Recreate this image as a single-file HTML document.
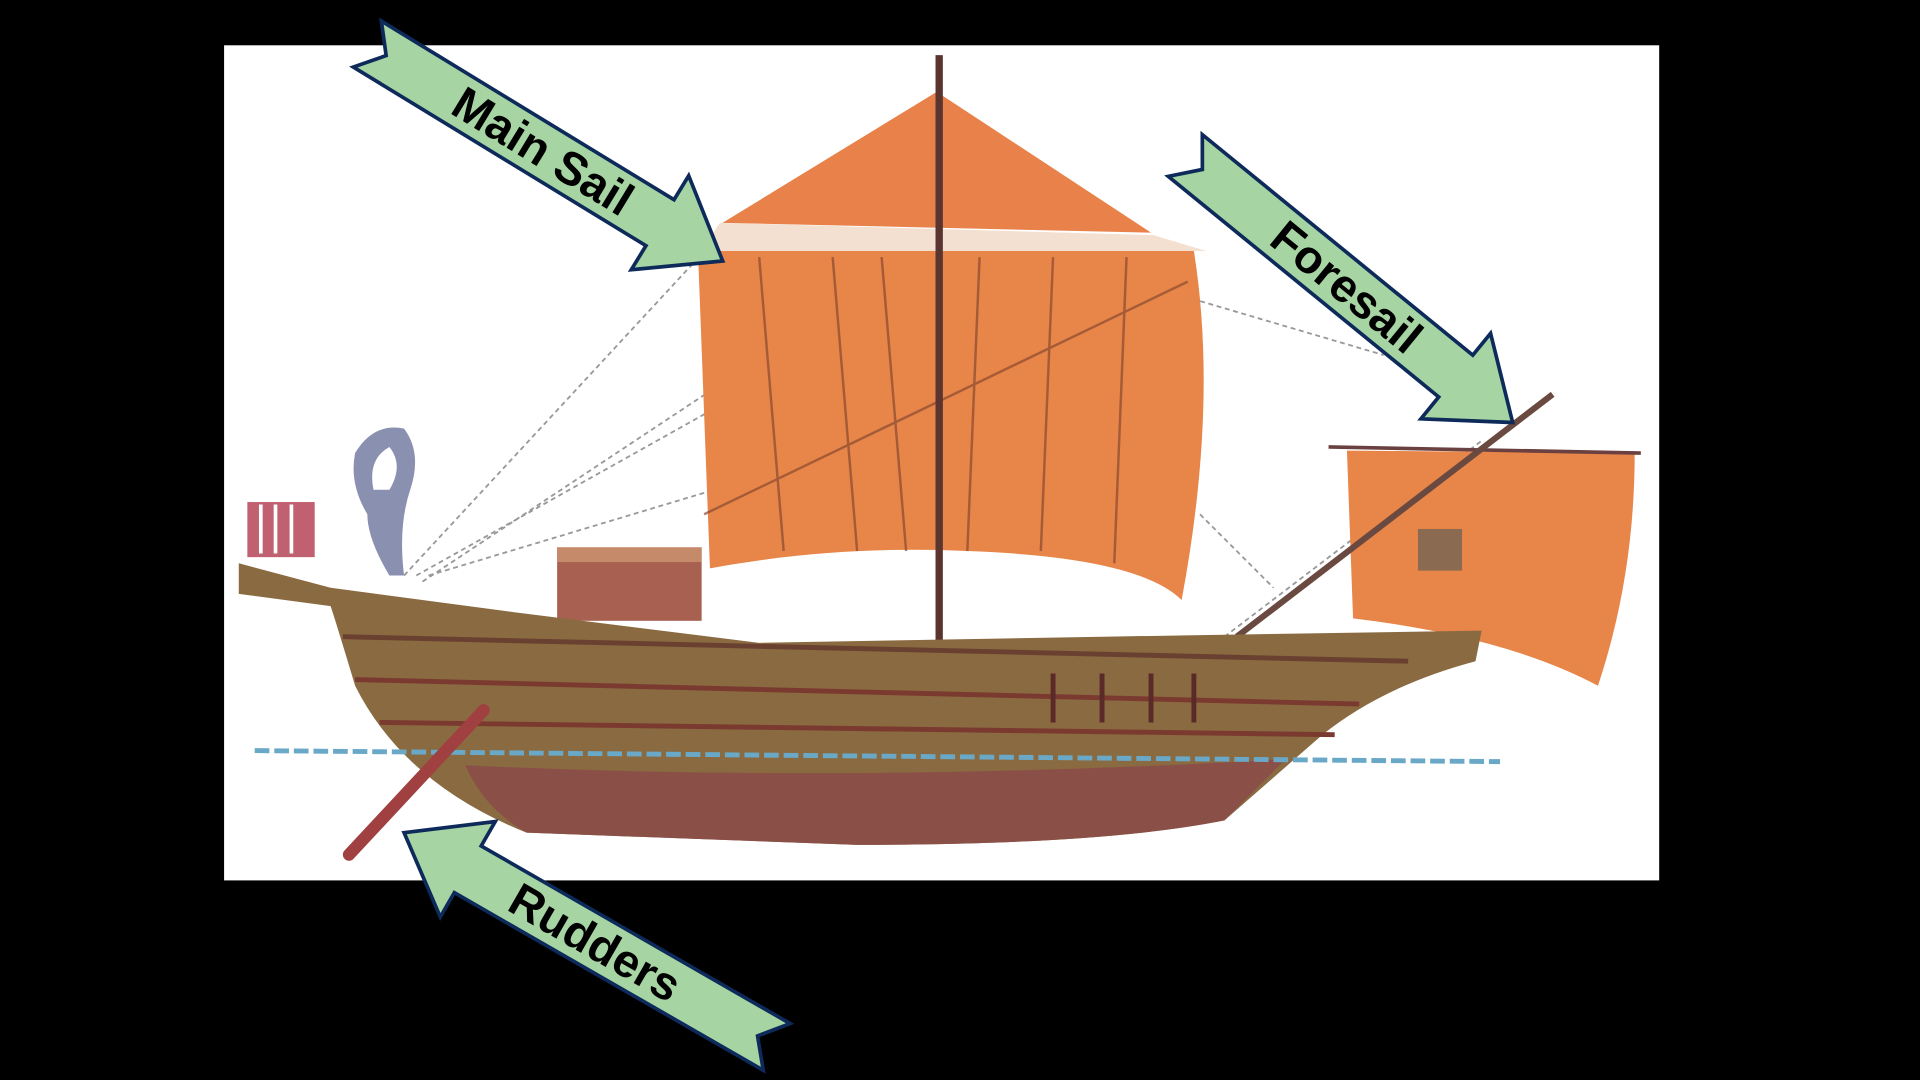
<!DOCTYPE html>
<html><head><meta charset="utf-8"><style>
html,body{margin:0;padding:0;background:#000;width:1920px;height:1080px;overflow:hidden}
svg{display:block}
text{font-family:"Liberation Sans",sans-serif;font-weight:bold;fill:#000}
</style></head><body>
<svg width="1920" height="1080" viewBox="0 0 1568 882" preserveAspectRatio="none">
<rect x="0" y="0" width="1568" height="882" fill="#000"/>
<rect x="183" y="37" width="1172" height="682" fill="#fff"/>
<g stroke="#999" stroke-width="1.5" stroke-dasharray="4 3" fill="none">
<line x1="330" y1="470" x2="580" y2="200"/>
<line x1="340" y1="470" x2="590" y2="330"/>
<line x1="345" y1="475" x2="760" y2="200"/>
<line x1="350" y1="470" x2="600" y2="395"/>
<line x1="960" y1="240" x2="1130" y2="290"/>
<line x1="980" y1="420" x2="1040" y2="480"/>
<line x1="1000" y1="520" x2="1210" y2="360"/>
</g>
<polygon points="590,182 765,75 940,190" fill="#e8824a"/>
<polygon points="588,182 942,192 985,205 572,205" fill="#f3e0d0"/>
<path d="M570,205 L975,205 Q995,330 965,490 Q900,455 780,450 Q650,450 580,470 Z" fill="#e88548"/>
<path d="M575,465 Q680,445 790,450 Q930,455 965,490 L960,500 L600,510 Z" fill="#fff"/>
<g stroke="#8a4a30" stroke-width="2" fill="none" opacity="0.7">
<line x1="620" y1="210" x2="640" y2="450"/>
<line x1="680" y1="210" x2="700" y2="450"/>
<line x1="720" y1="210" x2="740" y2="450"/>
<line x1="800" y1="210" x2="790" y2="450"/>
<line x1="860" y1="210" x2="850" y2="450"/>
<line x1="920" y1="210" x2="910" y2="460"/>
<line x1="575" y1="420" x2="970" y2="230"/>
</g>
<line x1="767" y1="45" x2="767" y2="525" stroke="#5a3530" stroke-width="6"/>
<path d="M1100,368 L1335,370 Q1335,470 1305,560 Q1230,520 1105,505 Z" fill="#e88548"/>
<line x1="1085" y1="365" x2="1340" y2="370" stroke="#6a4040" stroke-width="3"/>
<line x1="1010" y1="520" x2="1268" y2="322" stroke="#6a4a40" stroke-width="5"/>
<rect x="1158" y="432" width="36" height="34" fill="#8a6a50"/>
<path d="M318,470 Q300,440 300,420 Q285,395 290,370 Q305,345 330,350 Q345,370 335,400 Q325,430 330,470 Z" fill="#8a90b0"/>
<path d="M305,400 Q300,375 318,365 Q330,380 318,400 Z" fill="#fff"/>
<rect x="202" y="410" width="55" height="45" fill="#c06070"/>
<g stroke="#fff" stroke-width="3"><line x1="213" y1="412" x2="213" y2="452"/><line x1="225" y1="412" x2="225" y2="452"/><line x1="238" y1="412" x2="238" y2="452"/></g>
<rect x="455" y="447" width="118" height="60" fill="#a86050"/>
<rect x="455" y="447" width="118" height="12" fill="#c58a6a"/>
<path d="M195,460 L270,480 L420,500 L620,525 L900,520 L1210,515 L1205,540 Q1130,560 1080,600 L1000,670 Q900,690 700,690 L430,680 Q330,640 290,560 Q275,510 270,495 L195,485 Z" fill="#8a6a40"/>
<path d="M280,520 L1150,540" stroke="#6a4030" stroke-width="4"/>
<path d="M290,555 L1110,575" stroke="#7a3a30" stroke-width="4"/>
<path d="M310,590 L1090,600" stroke="#7a3a30" stroke-width="4"/>
<path d="M380,625 Q700,640 1050,620 L1000,670 Q900,690 700,690 L430,680 Q395,660 380,625 Z" fill="#8a5048"/>
<g stroke="#5a2a28" stroke-width="4">
<line x1="860" y1="550" x2="860" y2="590"/><line x1="900" y1="550" x2="900" y2="590"/><line x1="940" y1="550" x2="940" y2="590"/><line x1="975" y1="550" x2="975" y2="590"/>
</g>
<line x1="208" y1="613" x2="1225" y2="622" stroke="#6aa8c8" stroke-width="4" stroke-dasharray="12 4"/>
<line x1="395" y1="580" x2="285" y2="698" stroke="#a04040" stroke-width="10" stroke-linecap="round"/>
<g transform="translate(300,36) rotate(31.4)" stroke="#0d2a5a" stroke-width="3" fill="#a6d4a3">
<polygon points="0,-22 280,-22 280,-45 340,0 280,45 280,22 0,22 18,0"/>
<text x="168" y="13" font-size="38" stroke="none" text-anchor="middle">Main Sail</text>
</g>
<g transform="translate(968,127) rotate(39.2)" stroke="#0d2a5a" stroke-width="3" fill="#a6d4a3">
<polygon points="0,-22 285,-22 285,-45 345,0 285,45 285,22 0,22 18,0"/>
<text x="170" y="13" font-size="38" stroke="none" text-anchor="middle">Foresail</text>
</g>
<g transform="translate(330,680) rotate(29.9)" stroke="#0d2a5a" stroke-width="3" fill="#a6d4a3">
<polygon points="0,0 60,-45 60,-22 351,-22 333,0 351,22 60,22 60,45"/>
<text x="180" y="13" font-size="38" stroke="none" text-anchor="middle">Rudders</text>
</g>
</svg>
</body></html>
